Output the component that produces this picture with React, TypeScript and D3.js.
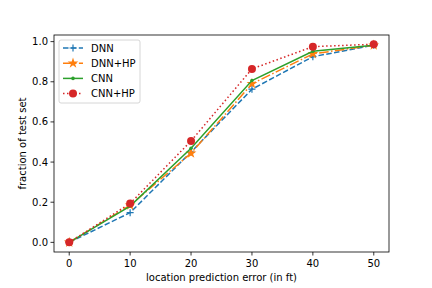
import React, { useEffect, useRef } from 'react';
import * as d3 from 'd3';

const errorFt = [0, 10, 20, 30, 40, 50];
const dnn = [0, 0.148, 0.45, 0.763, 0.925, 0.982];
const dnnHp = [0, 0.185, 0.444, 0.79, 0.939, 0.982];
const cnn = [0, 0.181, 0.469, 0.806, 0.952, 0.982];
const cnnHp = [0, 0.194, 0.505, 0.864, 0.975, 0.987];
const seriesNames = ['DNN', 'DNN+HP', 'CNN', 'CNN+HP'];
const xTicks = [0, 10, 20, 30, 40, 50];
const yTicks = [0, 0.2, 0.4, 0.6, 0.8, 1.0];

type Marker = 'plus' | 'star' | 'point' | 'circle';

const styles: { color: string; dash: string; marker: Marker }[] = [
  { color: '#1f77b4', dash: '5.5,2.4', marker: 'plus' },
  { color: '#ff7f0e', dash: '9.6,2.4,1.5,2.4', marker: 'star' },
  { color: '#2ca02c', dash: '', marker: 'point' },
  { color: '#d62728', dash: '1.5,2.5', marker: 'circle' },
];

const drawMarker = (g: d3.Selection<SVGGElement, unknown, null, undefined>, m: Marker, color: string, x: number, y: number) => {
  if (m === 'plus') {
    g.append('path')
      .attr('d', `M${x - 3.5},${y}H${x + 3.5}M${x},${y - 3.5}V${y + 3.5}`)
      .attr('stroke', color).attr('stroke-width', 1.2);
  } else if (m === 'star') {
    g.append('path')
      .attr('d', d3.symbol(d3.symbolStar, 36)()!)
      .attr('transform', `translate(${x},${y})`)
      .attr('fill', color);
  } else if (m === 'point') {
    g.append('circle').attr('cx', x).attr('cy', y).attr('r', 1.8).attr('fill', color);
  } else {
    g.append('circle').attr('cx', x).attr('cy', y).attr('r', 4).attr('fill', color);
  }
};

const App: React.FC = () => {
  const svgRef = useRef<SVGSVGElement>(null);

  useEffect(() => {
    if (!svgRef.current) return;
    const svg = d3.select(svgRef.current);
    svg.selectAll('*').remove();

    const left = 54, right = 389, top = 35, bottom = 252;
    const x = d3.scaleLinear().domain([-2.5, 52.5]).range([left, right]);
    const y = d3.scaleLinear().domain([-0.048, 1.033]).range([bottom, top]);
    const font = 'DejaVu Sans, sans-serif';

    svg.append('rect').attr('width', 432).attr('height', 288).attr('fill', '#fff');

    const data = [dnn, dnnHp, cnn, cnnHp];
    const line = d3.line<number>().x((_, i) => x(errorFt[i])).y(d => y(d));

    data.forEach((vals, si) => {
      const s = styles[si];
      const g = svg.append('g');
      g.append('path')
        .attr('d', line(vals)!)
        .attr('fill', 'none')
        .attr('stroke', s.color)
        .attr('stroke-width', 1.5)
        .attr('stroke-dasharray', s.dash || null);
      vals.forEach((v, i) => drawMarker(g as any, s.marker, s.color, x(errorFt[i]), y(v)));
    });

    // frame
    svg.append('rect')
      .attr('x', left).attr('y', top)
      .attr('width', right - left).attr('height', bottom - top)
      .attr('fill', 'none').attr('stroke', '#000').attr('stroke-width', 0.8);

    const ax = svg.append('g').attr('font-family', font).attr('font-size', 10);
    xTicks.forEach(t => {
      ax.append('line').attr('x1', x(t)).attr('x2', x(t)).attr('y1', bottom).attr('y2', bottom + 3.5)
        .attr('stroke', '#000').attr('stroke-width', 0.8);
      ax.append('text').attr('x', x(t)).attr('y', bottom + 15).attr('text-anchor', 'middle').text(t);
    });
    yTicks.forEach(t => {
      ax.append('line').attr('x1', left - 3.5).attr('x2', left).attr('y1', y(t)).attr('y2', y(t))
        .attr('stroke', '#000').attr('stroke-width', 0.8);
      ax.append('text').attr('x', left - 6).attr('y', y(t) + 3.5).attr('text-anchor', 'end').text(t.toFixed(1));
    });
    ax.append('text').attr('x', (left + right) / 2).attr('y', 281).attr('text-anchor', 'middle')
      .text('location prediction error (in ft)');
    ax.append('text').attr('transform', `translate(26,${(top + bottom) / 2}) rotate(-90)`)
      .attr('text-anchor', 'middle').text('fraction of test set');

    // legend
    const lg = svg.append('g').attr('font-family', font).attr('font-size', 10);
    lg.append('rect').attr('x', 59).attr('y', 40).attr('width', 81).attr('height', 63).attr('rx', 2)
      .attr('fill', '#fff').attr('fill-opacity', 0.8).attr('stroke', '#ccc').attr('stroke-width', 0.8);
    seriesNames.forEach((name, i) => {
      const s = styles[i];
      const yy = 48 + i * 15.2;
      lg.append('line').attr('x1', 63).attr('x2', 83).attr('y1', yy).attr('y2', yy)
        .attr('stroke', s.color).attr('stroke-width', 1.5).attr('stroke-dasharray', s.dash || null);
      drawMarker(lg as any, s.marker, s.color, 73, yy);
      lg.append('text').attr('x', 91).attr('y', yy + 3.5).text(name);
    });
  }, []);

  return <svg ref={svgRef} width={432} height={288} style={{ position: 'absolute', left: 0, top: 0 }} />;
};

export default App;
